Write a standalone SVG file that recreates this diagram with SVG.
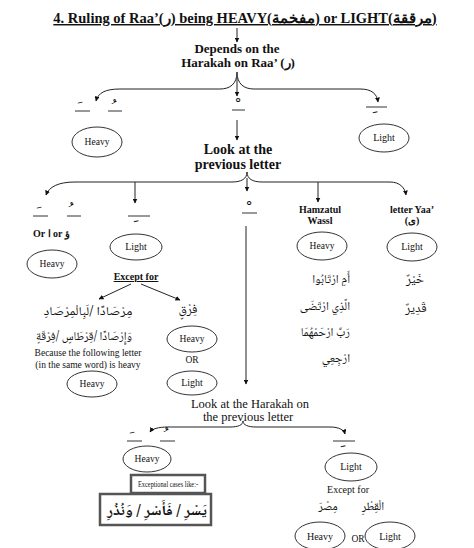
<svg xmlns="http://www.w3.org/2000/svg" width="474" height="548" viewBox="0 0 474 548">
<style>
.t{font-family:"Liberation Serif","Times New Roman",serif;fill:#111}
.b{font-weight:bold}
.ar{font-family:"Noto Naskh Arabic","DejaVu Sans",serif;fill:#111}
.c{text-anchor:middle}
.e{text-anchor:end}
.n{fill:#fff;stroke:#333;stroke-width:1}
.ln{stroke:#222;stroke-width:1;fill:none}
.ul{stroke:#333;stroke-width:1}
.mk{font-family:"DejaVu Sans",sans-serif;fill:#111;text-anchor:middle;font-size:16px}
.box{fill:#fff;stroke:#555;stroke-width:2.5}
</style>
<defs>
<marker id="ah" viewBox="0 0 10 10" refX="9" refY="5" markerWidth="5" markerHeight="5" orient="auto"><path d="M0,0L10,5L0,10z" fill="#111"/></marker>
</defs>
<rect width="474" height="548" fill="#fff"/>

<g id="title">
<text x="245" y="23" class="t b c" font-size="14.5" text-decoration="underline">4. Ruling of Raa’(ر) being HEAVY(مفخمة) or LIGHT(مرققة)</text>
</g>

<g id="connectors" class="ln" marker-end="url(#ah)">
<path d="M237,28V42"/>
<path d="M237,72C237,84 230,89 220,89H120C105,89 98,93 96,101"/>
<path d="M237,72C237,84 244,89 254,89H360C372,89 377,94 378,102"/>
<path d="M237,78V96"/>
<path d="M237,120V140"/>
<path d="M247,172C247,179 241,182 232,182H75C58,182 49,187 46,195"/>
<path d="M247,172C247,179 253,182 262,182H390C400,182 405,188 406,195"/>
<path d="M135,182V203"/>
<path d="M247,178V191"/>
<path d="M318,182V202"/>
<path d="M246,226V384"/>
<path d="M131,284L99,299"/>
<path d="M141,284L180,300"/>
<path d="M243,421C243,425 238,427 230,427H168C158,427 152,429 150,432"/>
<path d="M243,421C243,425 248,427 256,427H330C339,427 344,430 345,434"/>
</g>

<g id="depends">
<text x="237" y="53" class="t b c" font-size="13">Depends on the</text>
<text x="238" y="67" class="t b c" font-size="13">Harakah on Raa’ (ر)</text>
</g>

<g id="marks-top">
<line x1="75" y1="111" x2="90" y2="111" class="ul"/><text x="80" y="113" class="mk">ﹶ</text>
<line x1="108" y1="111" x2="122" y2="111" class="ul"/><text x="114" y="113" class="mk">ﹸ</text>
<line x1="232" y1="110" x2="245" y2="110" class="ul"/><text x="238" y="112" class="mk">ﹾ</text>
<line x1="366" y1="107" x2="387" y2="107" class="ul"/><text x="375" y="111" class="mk">ﹺ</text>
</g>

<g id="heavy1"><ellipse cx="97" cy="142" rx="25" ry="15" class="n"/><text x="97" y="145" class="t c" font-size="9.5">Heavy</text></g>
<g id="light1"><ellipse cx="384" cy="138" rx="25" ry="14" class="n"/><text x="384" y="141" class="t c" font-size="10">Light</text></g>

<g id="look">
<text x="238" y="154" class="t b c" font-size="14">Look at the</text>
<text x="238" y="169" class="t b c" font-size="14">previous letter</text>
</g>

<g id="marks-second">
<line x1="33" y1="216" x2="48" y2="216" class="ul"/><text x="39" y="218" class="mk">ﹶ</text>
<line x1="67" y1="216" x2="81" y2="216" class="ul"/><text x="71" y="216" class="mk">ﹸ</text>
<line x1="128" y1="216" x2="150" y2="216" class="ul"/><text x="136" y="220" class="mk">ﹺ</text>
<line x1="242" y1="213" x2="257" y2="213" class="ul"/><text x="249" y="215" class="mk">ﹾ</text>
</g>

<g id="or-alif-waw"><text x="33" y="237" class="t b" font-size="10">Or ا or ؤ</text></g>
<g id="heavy2"><ellipse cx="52" cy="264" rx="25" ry="14" class="n"/><text x="52" y="267" class="t c" font-size="9.5">Heavy</text></g>

<g id="light2"><ellipse cx="136" cy="247" rx="26" ry="13" class="n"/><text x="136" y="250" class="t c" font-size="10">Light</text></g>
<g id="except1"><text x="136" y="280" class="t b c" font-size="10" text-decoration="underline">Except for</text></g>

<g id="mirsaad">
<text x="88" y="315" class="ar c" font-size="12" direction="rtl" unicode-bidi="embed" textLength="89" lengthAdjust="spacingAndGlyphs">مِرْصَادًا /لَبِالْمِرْصَادِ</text>
<text x="84" y="340" class="ar c" font-size="12" direction="rtl" unicode-bidi="embed" textLength="96" lengthAdjust="spacingAndGlyphs">وَإِرْصَادًا /قِرْطَاسٍ /فِرْقَةٍ</text>
<text x="88" y="356" class="t c" font-size="9.5">Because the following letter</text>
<text x="88" y="368" class="t c" font-size="9.5">(in the same word) is heavy</text>
</g>
<g id="heavy3"><ellipse cx="92" cy="384" rx="25" ry="13" class="n"/><text x="92" y="387" class="t c" font-size="9.5">Heavy</text></g>

<g id="firq">
<text x="188" y="313" class="ar c" font-size="13">فِرْقٍ</text>
</g>
<g id="heavy4"><ellipse cx="192" cy="339" rx="25" ry="13" class="n"/><text x="192" y="342" class="t c" font-size="9.5">Heavy</text></g>
<g id="or1"><text x="192" y="363" class="t c" font-size="9.5">OR</text></g>
<g id="light4"><ellipse cx="192" cy="383" rx="25" ry="12" class="n"/><text x="192" y="386" class="t c" font-size="10">Light</text></g>

<g id="hamzatul">
<text x="320" y="213" class="t b c" font-size="10">Hamzatul</text>
<text x="320" y="224" class="t b c" font-size="10">Wassl</text>
</g>
<g id="heavy5"><ellipse cx="322" cy="246" rx="25" ry="14" class="n"/><text x="322" y="249" class="t c" font-size="9.5">Heavy</text></g>
<g id="hamzatul-examples">
<text x="350" y="283" class="ar e" font-size="12">أَمِ ارْتَابُوا</text>
<text x="350" y="310" class="ar e" font-size="12">الَّذِي ارْتَضَى</text>
<text x="350" y="336" class="ar e" font-size="12">رَبِّ ارْحَمْهُمَا</text>
<text x="350" y="362" class="ar e" font-size="12">ارْجِعِي</text>
</g>

<g id="yaa">
<text x="412" y="213" class="t b c" font-size="10">letter Yaa’</text>
<text x="412" y="224" class="t b c" font-size="10">(ى)</text>
</g>
<g id="light5"><ellipse cx="412" cy="247" rx="25" ry="14" class="n"/><text x="412" y="250" class="t c" font-size="10">Light</text></g>
<g id="yaa-examples">
<text x="415" y="283" class="ar c" font-size="13">خَيْرٌ</text>
<text x="416" y="312" class="ar c" font-size="13">قَدِيرٌ</text>
</g>

<g id="look2">
<text x="250" y="408" class="t c" font-size="12.5">Look at the Harakah on</text>
<text x="248" y="421" class="t c" font-size="12.5">the previous letter</text>
</g>

<g id="marks-third">
<line x1="127" y1="441" x2="142" y2="441" class="ul"/><text x="132" y="443" class="mk">ﹶ</text>
<line x1="160" y1="441" x2="175" y2="441" class="ul"/><text x="166" y="441" class="mk">ﹸ</text>
<line x1="333" y1="441" x2="355" y2="441" class="ul"/><text x="343" y="445" class="mk">ﹺ</text>
</g>

<g id="heavy6"><ellipse cx="147" cy="459" rx="24" ry="13" class="n"/><text x="147" y="462" class="t c" font-size="9.5">Heavy</text></g>
<g id="exceptional">
<rect x="131" y="475" width="74" height="18" class="box"/>
<text x="168" y="487" class="t c" font-size="8.5" textLength="60" lengthAdjust="spacingAndGlyphs">Exceptional cases like:-</text>
<rect x="100" y="494" width="111" height="31" class="box"/>
<text x="157" y="515" class="ar c b" font-size="14" direction="rtl" unicode-bidi="embed" textLength="100" lengthAdjust="spacingAndGlyphs">يَسْرِ / فَأَسْرِ / وَنُذُرِ</text>
</g>

<g id="light6"><ellipse cx="351" cy="467" rx="26" ry="14" class="n"/><text x="351" y="470" class="t c" font-size="10">Light</text></g>
<g id="except2">
<text x="348" y="493" class="t c" font-size="10">Except for</text>
<text x="373" y="510" class="ar c" font-size="12">الْقِطْرِ</text>
<text x="328" y="510" class="ar c" font-size="12">مِصْرَ</text>
</g>
<g id="heavy7"><ellipse cx="320" cy="536" rx="25" ry="14" class="n"/><text x="320" y="540" class="t c" font-size="10">Heavy</text></g>
<g id="or2"><text x="358" y="542" class="t c" font-size="9.5">OR</text></g>
<g id="light7"><ellipse cx="390" cy="536" rx="25" ry="14" class="n"/><text x="390" y="540" class="t c" font-size="10">Light</text></g>
</svg>
